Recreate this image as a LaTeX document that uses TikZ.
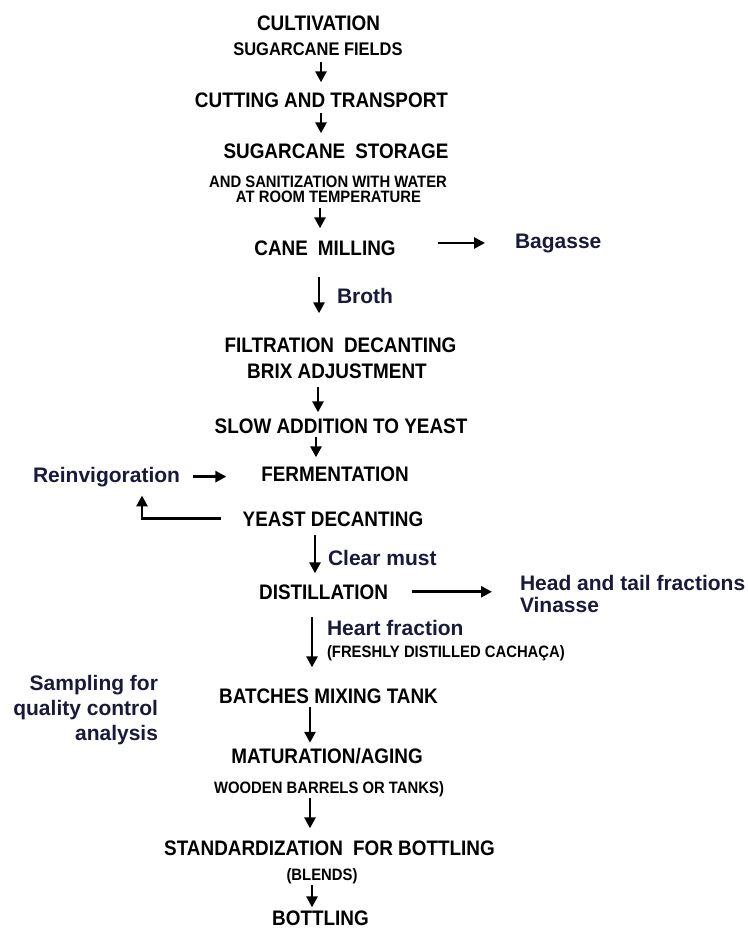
\documentclass[tikz,border=0pt]{standalone}
\usepackage{fontspec}
\setmainfont{Liberation Sans}
\newfontfamily\narrowsans{Liberation Sans}[FakeStretch=0.9]
\usetikzlibrary{arrows.meta}
\definecolor{lblc}{RGB}{25,25,60}
\begin{document}
\begin{tikzpicture}[x=1pt,y=-1pt,
  every node/.style={inner sep=0pt,outer sep=0pt},
  big/.style={font=\narrowsans\fontsize{21}{24}\selectfont\bfseries,anchor=base},
  small/.style={font=\narrowsans\fontsize{16.5}{19}\selectfont\bfseries,anchor=base},
  lbl/.style={font=\fontsize{21}{25}\selectfont\bfseries,text=lblc,anchor=base west},
  arr/.style={line width=2.8pt,-{Triangle[length=11pt,width=11pt]}}]
\fill[white] (0,0) rectangle (747,929);
\useasboundingbox (0,0) rectangle (747,929);

\node[big] (cult) at (318.5,30) {CULTIVATION};
\node[small,font=\narrowsans\fontsize{18.3}{21}\selectfont\bfseries] (fields) at (318,55) {SUGARCANE FIELDS};
\node[big] (cut) at (321.5,107) {CUTTING AND TRANSPORT};
\node[big] (stor) at (336,158) {SUGARCANE\hspace{10pt}STORAGE};
\node[small] (sani) at (328,187) {AND SANITIZATION WITH WATER};
\node[small] (temp) at (328.5,202) {AT ROOM TEMPERATURE};
\node[big] (mill) at (325,255) {CANE\hspace{10pt}MILLING};
\node[lbl] (bag) at (515,248) {Bagasse};
\node[lbl] (broth) at (337,303) {Broth};
\node[big] (filt) at (340.5,352) {FILTRATION\hspace{10pt}DECANTING};
\node[big] (brix) at (337,378) {BRIX ADJUSTMENT};
\node[big] (slow) at (341,433) {SLOW ADDITION TO YEAST};
\node[big] (ferm) at (335,481) {FERMENTATION};
\node[lbl] (reinv) at (33,482) {Reinvigoration};
\node[big] (dec) at (333,526) {YEAST DECANTING};
\node[lbl] (clear) at (328,565) {Clear must};
\node[big] (dist) at (323.5,599) {DISTILLATION};
\node[lbl] (head) at (520,590) {Head and tail fractions};
\node[lbl] (vin) at (520,612) {Vinasse};
\node[lbl] (heart) at (327,635) {Heart fraction};
\node[small,anchor=base west] (fresh) at (327,657) {(FRESHLY DISTILLED CACHAÇA)};
\node[lbl,anchor=north east,align=right] (samp) at (158,675) {Sampling for\\quality control\\analysis};
\node[big] (batch) at (328.5,703) {BATCHES MIXING TANK};
\node[big] (mat) at (327,763) {MATURATION/AGING};
\node[small] (wood) at (329,793) {WOODEN BARRELS OR TANKS)};
\node[big] (std) at (329.5,855) {STANDARDIZATION\hspace{10pt}FOR BOTTLING};
\node[small] (blend) at (322,880) {(BLENDS)};
\node[big] (bott) at (320.5,925) {BOTTLING};

\draw[arr,shorten <=7pt,shorten >=10pt] (fields.south -| 321,0) -- (cut.north -| 321,0);
\draw[arr,shorten <=6pt,shorten >=10pt] (cut.south -| 321,0) -- (stor.north -| 321,0);
\draw[arr,shorten <=6pt,shorten >=12pt] (temp.south -| 320,0) -- (mill.north -| 320,0);
\draw[arr,shorten <=42pt,shorten >=30pt] (mill.east |- bag.west) -- (bag.west);
\draw[arr,shorten <=22pt,shorten >=24pt] (mill.south -| 319,0) -- (filt.north -| 319,0);
\draw[arr,shorten <=9pt,shorten >=6pt] (brix.south -| 318,0) -- (slow.north -| 318,0);
\draw[arr,shorten <=4pt,shorten >=9pt] (slow.south -| 316,0) -- (ferm.north -| 316,0);
\draw[arr,shorten <=13pt,shorten >=35pt] (reinv.east) -- (reinv.east -| ferm.west);
\draw[arr,shorten <=22pt,shorten >=9pt] (dec.west) -| (reinv.south -| 142,0);
\draw[arr,shorten <=9pt,shorten >=11pt] (dec.south -| 315,0) -- (dist.north -| 315,0);
\draw[arr,shorten <=24pt,shorten >=28pt] (dist.east) -- (dist.east -| head.west);
\draw[arr,shorten <=18pt,shorten >=21pt] (dist.south -| 312,0) -- (batch.north -| 312,0);
\draw[arr,shorten <=4pt,shorten >=5pt] (batch.south -| 310,0) -- (mat.north -| 310,0);
\draw[arr,shorten <=2pt,shorten >=12pt] (wood.south -| 310,0) -- (std.north -| 310,0);
\draw[arr,shorten <=2pt,shorten >=3pt] (blend.south -| 312,0) -- (bott.north -| 312,0);
\end{tikzpicture}
\end{document}
